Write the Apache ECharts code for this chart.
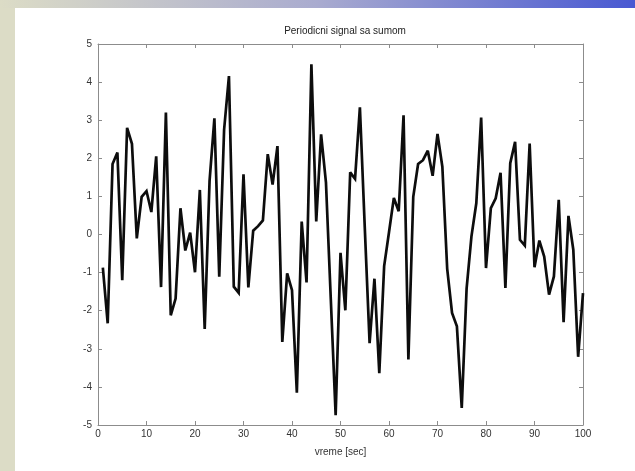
<!DOCTYPE html>
<html>
<head>
<meta charset="utf-8">
<style>
  html, body { margin: 0; padding: 0; background: #ffffff; }
  #chart { width: 635px; height: 471px; }
</style>
<script src="https://cdn.jsdelivr.net/npm/echarts@6/dist/echarts.min.js"></script>
</head>
<body>
<div id="chart"></div>
<script>
// Time samples (seconds) and the noisy periodic signal
const times = [
  1, 2, 3, 4, 5, 6, 7, 8, 9, 10,
  11, 12, 13, 14, 15, 16, 17, 18, 19, 20,
  21, 22, 23, 24, 25, 26, 27, 28, 29, 30,
  31, 32, 33, 34, 35, 36, 37, 38, 39, 40,
  41, 42, 43, 44, 45, 46, 47, 48, 49, 50,
  51, 52, 53, 54, 55, 56, 57, 58, 59, 60,
  61, 62, 63, 64, 65, 66, 67, 68, 69, 70,
  71, 72, 73, 74, 75, 76, 77, 78, 79, 80,
  81, 82, 83, 84, 85, 86, 87, 88, 89, 90,
  91, 92, 93, 94, 95, 96, 97, 98, 99, 100
];
const signal = [
  -0.87, -2.33, 1.85, 2.15, -1.2, 2.8, 2.38, -0.1, 0.99, 1.14,
  0.59, 2.05, -1.38, 3.2, -2.12, -1.68, 0.69, -0.42, 0.05, -0.99,
  1.17, -2.48, 1.4, 3.05, -1.11, 2.75, 4.16, -1.37, -1.53, 1.58,
  -1.39, 0.1, 0.22, 0.37, 2.11, 1.31, 2.32, -2.82, -1.02, -1.46,
  -4.15, 0.34, -1.26, 4.47, 0.34, 2.63, 1.37, -1.7, -4.74, -0.48,
  -1.99, 1.63, 1.46, 3.34, 0.2, -2.85, -1.16, -3.64, -0.83, 0.06,
  0.96, 0.61, 3.13, -3.28, 0.99, 1.85, 1.95, 2.2, 1.54, 2.64,
  1.78, -0.9, -2.06, -2.41, -4.55, -1.42, -0.05, 0.82, 3.07, -0.88,
  0.69, 0.95, 1.62, -1.4, 1.87, 2.43, -0.14, -0.29, 2.39, -0.86,
  -0.16, -0.58, -1.58, -1.1, 0.91, -2.3, 0.49, -0.4, -3.21, -1.54
];
const xTicks = [0, 10, 20, 30, 40, 50, 60, 70, 80, 90, 100];
const yTicks = [-5, -4, -3, -2, -1, 0, 1, 2, 3, 4, 5];

const points = times.map((t, i) => [t, signal[i]]);

const boxColor = '#8c8c8c';
const labelColor = '#333333';
const font = 'Liberation Sans, Arial, sans-serif';

const chart = echarts.init(document.getElementById('chart'), null, { renderer: 'canvas' });

function boxAxis(extra) {
  return Object.assign({
    type: 'value',
    axisLine: { show: true, onZero: false, lineStyle: { color: boxColor, width: 1 } },
    axisTick: { show: true, inside: true, length: 4, lineStyle: { color: boxColor } },
    splitLine: { show: false }
  }, extra);
}

chart.setOption({
  backgroundColor: '#ffffff',
  animation: false,
  title: {
    text: 'Periodicni signal sa sumom',
    left: 340, top: 21, textAlign: 'center',
    textStyle: { fontFamily: font, fontSize: 10, fontWeight: 'normal', color: '#222' }
  },
  graphic: [
    {
      type: 'rect', silent: true, z: -10,
      shape: { x: 0, y: 0, width: 15, height: 471 },
      style: { fill: '#dcdcc6' }
    },
    {
      type: 'rect', silent: true, z: -10,
      shape: { x: 0, y: 0, width: 635, height: 8 },
      style: {
        fill: new echarts.graphic.LinearGradient(0, 0, 1, 0, [
          { offset: 0, color: '#dcdcc6' },
          { offset: 0.5, color: '#a9abcf' },
          { offset: 1, color: '#4858d2' }
        ])
      }
    }
  ],
  grid: { left: 98, right: 52, top: 44, bottom: 46, containLabel: false },
  xAxis: [
    boxAxis({
      position: 'bottom',
      min: xTicks[0], max: xTicks[xTicks.length - 1], interval: 10,
      name: 'vreme [sec]', nameLocation: 'middle', nameGap: 22,
      nameTextStyle: { fontFamily: font, fontSize: 10, color: labelColor },
      axisLabel: { fontFamily: font, fontSize: 10, color: labelColor, margin: 4 }
    }),
    boxAxis({
      position: 'top',
      min: xTicks[0], max: xTicks[xTicks.length - 1], interval: 10,
      axisLabel: { show: false }
    })
  ],
  yAxis: [
    boxAxis({
      position: 'left',
      min: yTicks[0], max: yTicks[yTicks.length - 1], interval: 1,
      axisLabel: { fontFamily: font, fontSize: 10, color: labelColor, margin: 6 }
    }),
    boxAxis({
      position: 'right',
      min: yTicks[0], max: yTicks[yTicks.length - 1], interval: 1,
      axisLabel: { show: false }
    })
  ],
  series: [{
    type: 'line',
    data: points,
    xAxisIndex: 0, yAxisIndex: 0,
    showSymbol: false,
    lineStyle: { color: '#0d0d0d', width: 2.7, join: 'miter', miterLimit: 3 },
    silent: true
  }]
});
</script>
</body>
</html>
